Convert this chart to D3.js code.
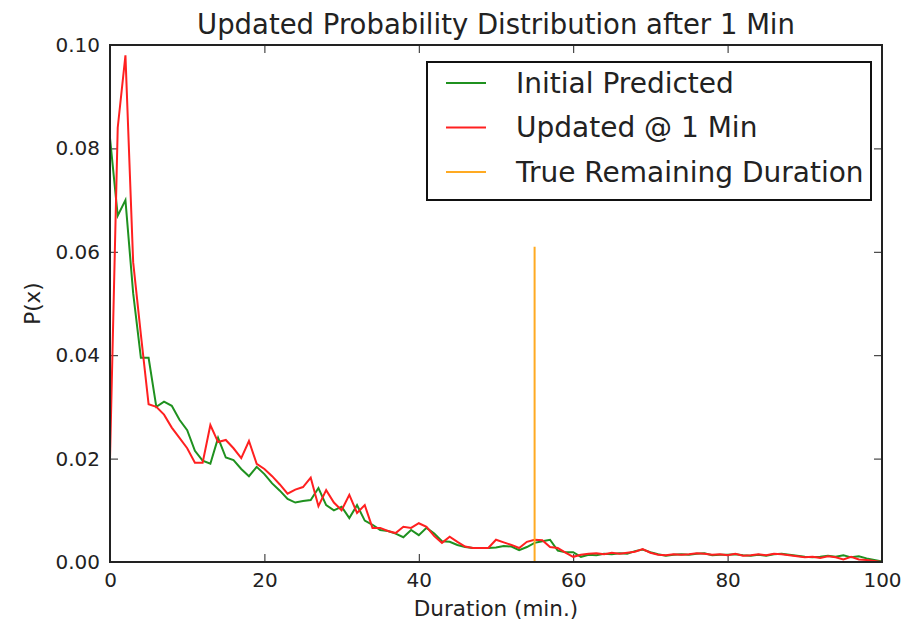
<!DOCTYPE html>
<html>
<head>
<meta charset="utf-8">
<script src="https://cdn.jsdelivr.net/npm/d3@7"></script>
<style>
  body { margin: 0; background: #fff; }
  text { font-family: "DejaVu Sans", sans-serif; fill: #222; }
</style>
</head>
<body>
<div class="chart"></div>
<script>
// data, one value per minute 0..100
const minutes = d3.range(0, 101);
const initialPredicted = [
  0.082, 0.067, 0.070, 0.052, 0.0395, 0.0395, 0.030, 0.031, 0.0302, 0.0275,
  0.0255, 0.0215, 0.0196, 0.0190, 0.0240, 0.0202, 0.0197, 0.0180, 0.0166, 0.0184,
  0.0170, 0.0152, 0.0138, 0.0122, 0.0115, 0.0118, 0.0120, 0.0143, 0.0110, 0.0100,
  0.0107, 0.0085, 0.0110, 0.0080, 0.0072, 0.0062, 0.0060, 0.0055, 0.0048, 0.0062,
  0.0052, 0.0066, 0.0055, 0.0040, 0.0039, 0.0033, 0.0029, 0.0027, 0.0027, 0.0027,
  0.0028, 0.0031, 0.0030, 0.0023, 0.0029, 0.0037, 0.0040, 0.0043, 0.0022, 0.0019,
  0.0019, 0.0010, 0.0014, 0.0013, 0.0016, 0.0015, 0.0017, 0.0016, 0.0021, 0.0024,
  0.0019, 0.0015, 0.0012, 0.0014, 0.0015, 0.0014, 0.0016, 0.0017, 0.0013, 0.0014,
  0.0014, 0.0015, 0.0013, 0.0012, 0.0014, 0.0012, 0.0015, 0.0016, 0.0014, 0.0012,
  0.0010, 0.0009, 0.0010, 0.0012, 0.0010, 0.0013, 0.0009, 0.0011, 0.0007, 0.0004,
  0.0001
];
const updatedOneMin = [
  0.020, 0.084, 0.098, 0.058, 0.044, 0.0305, 0.030, 0.0285, 0.026, 0.024,
  0.022, 0.0192, 0.0192, 0.0265, 0.0232, 0.0236, 0.022, 0.0201, 0.0234, 0.0190,
  0.0180, 0.0166, 0.0150, 0.0132, 0.0140, 0.0145, 0.0163, 0.0108, 0.0139, 0.0115,
  0.0100, 0.0130, 0.0095, 0.0110, 0.0066, 0.0066, 0.0060, 0.0056, 0.0068, 0.0066,
  0.0075, 0.0068, 0.0050, 0.0037, 0.0049, 0.0039, 0.0030, 0.0027, 0.0027, 0.0027,
  0.0043, 0.0038, 0.0033, 0.0027, 0.0039, 0.0043, 0.0042, 0.0029, 0.0027, 0.0018,
  0.0010, 0.0014, 0.0016, 0.0017, 0.0015, 0.0018, 0.0016, 0.0018, 0.0020, 0.0025,
  0.0018, 0.0014, 0.0013, 0.0015, 0.0014, 0.0015, 0.0017, 0.0016, 0.0014, 0.0015,
  0.0013, 0.0016, 0.0012, 0.0013, 0.0015, 0.0013, 0.0016, 0.0015, 0.0013, 0.0011,
  0.0009, 0.0010, 0.0008, 0.0011, 0.0009, 0.0005, 0.0010, 0.0005, 0.0004, 0.0002,
  0.0000
];
const trueRemaining = 55;
const trueRemainingTop = 0.061;
const xTicks = [0, 20, 40, 60, 80, 100];
const yTicks = [0.00, 0.02, 0.04, 0.06, 0.08, 0.10];
const seriesNames = ["Initial Predicted", "Updated @ 1 Min", "True Remaining Duration"];
const seriesColors = ["#1f911f", "#ff2020", "#ffaa22"];

const svgWidth = 905, svgHeight = 625;
const margin = {left: 110, right: 23, top: 45, bottom: 63};
const innerWidth = svgWidth - margin.left - margin.right;
const innerHeight = svgHeight - margin.top - margin.bottom;

let svg = d3.select(".chart")
  .append("svg")
  .attr("width", svgWidth)
  .attr("height", svgHeight);

let gChart = svg.append("g")
  .attr("transform", `translate(${margin.left}, ${margin.top})`);

let xScale = d3.scaleLinear().domain([0, 100]).range([0, innerWidth]);
let yScale = d3.scaleLinear().domain([0, 0.10]).range([innerHeight, 0]);

// matplotlib classic style: ticks point inward, on all four sides
const tickLen = 8;
function styleAxis(g) {
  g.select(".domain").remove();
  g.selectAll(".tick line").attr("stroke", "#222").attr("stroke-width", 1);
  g.selectAll(".tick text").style("font-size", "20px");
}
// top/right axes only carry tick marks
function marksOnly(g) {
  styleAxis(g);
  g.selectAll(".tick text").remove();
}

gChart.append("g")
  .attr("transform", `translate(0, ${innerHeight})`)
  .call(d3.axisBottom(xScale).tickValues(xTicks).tickFormat(d3.format("d"))
    .tickSizeInner(-tickLen).tickSizeOuter(0).tickPadding(11))
  .call(styleAxis);

gChart.append("g")
  .call(d3.axisTop(xScale).tickValues(xTicks)
    .tickSizeInner(-tickLen).tickSizeOuter(0))
  .call(marksOnly);

gChart.append("g")
  .call(d3.axisLeft(yScale).tickValues(yTicks).tickFormat(d3.format(".2f"))
    .tickSizeInner(-tickLen).tickSizeOuter(0).tickPadding(10))
  .call(styleAxis);

gChart.append("g")
  .attr("transform", `translate(${innerWidth}, 0)`)
  .call(d3.axisRight(yScale).tickValues(yTicks)
    .tickSizeInner(-tickLen).tickSizeOuter(0))
  .call(marksOnly);

let line = d3.line()
  .x((d) => xScale(d[0]))
  .y((d) => yScale(d[1]));

gChart.append("path")
  .datum(minutes.map((m, i) => [m, initialPredicted[i]]))
  .attr("fill", "none")
  .attr("stroke", seriesColors[0])
  .attr("stroke-width", 2)
  .attr("d", line);

gChart.append("path")
  .datum(minutes.map((m, i) => [m, updatedOneMin[i]]))
  .attr("fill", "none")
  .attr("stroke", seriesColors[1])
  .attr("stroke-width", 2)
  .attr("d", line);

gChart.append("path")
  .datum([[trueRemaining, 0], [trueRemaining, trueRemainingTop]])
  .attr("fill", "none")
  .attr("stroke", seriesColors[2])
  .attr("stroke-width", 2)
  .attr("d", line);

// frame
gChart.append("rect")
  .attr("width", innerWidth)
  .attr("height", innerHeight)
  .attr("fill", "none")
  .attr("stroke", "#222")
  .attr("stroke-width", 2);

// titles
svg.append("text")
  .attr("x", margin.left + innerWidth / 2)
  .attr("y", 34)
  .attr("text-anchor", "middle")
  .style("font-size", "27.5px")
  .text("Updated Probability Distribution after 1 Min");

svg.append("text")
  .attr("x", margin.left + innerWidth / 2)
  .attr("y", 616)
  .attr("text-anchor", "middle")
  .style("font-size", "21.5px")
  .text("Duration (min.)");

svg.append("text")
  .attr("transform", `translate(40, ${margin.top + innerHeight / 2}) rotate(-90)`)
  .attr("text-anchor", "middle")
  .style("font-size", "21.5px")
  .text("P(x)");

// legend
let legend = svg.append("g").attr("transform", "translate(427, 62)");
legend.append("rect")
  .attr("width", 444)
  .attr("height", 138)
  .attr("fill", "#fff")
  .attr("stroke", "#111")
  .attr("stroke-width", 2);

let items = legend.selectAll("g.item")
  .data(seriesNames)
  .enter()
  .append("g")
  .attr("class", "item")
  .attr("transform", (d, i) => `translate(0, ${21 + i * 44.5})`);

items.append("line")
  .attr("x1", 19).attr("x2", 59)
  .attr("stroke", (d, i) => seriesColors[i])
  .attr("stroke-width", 2);

items.append("text")
  .attr("x", 89)
  .attr("dy", "0.35em")
  .style("font-size", "28px")
  .text((d) => d);
</script>
</body>
</html>
